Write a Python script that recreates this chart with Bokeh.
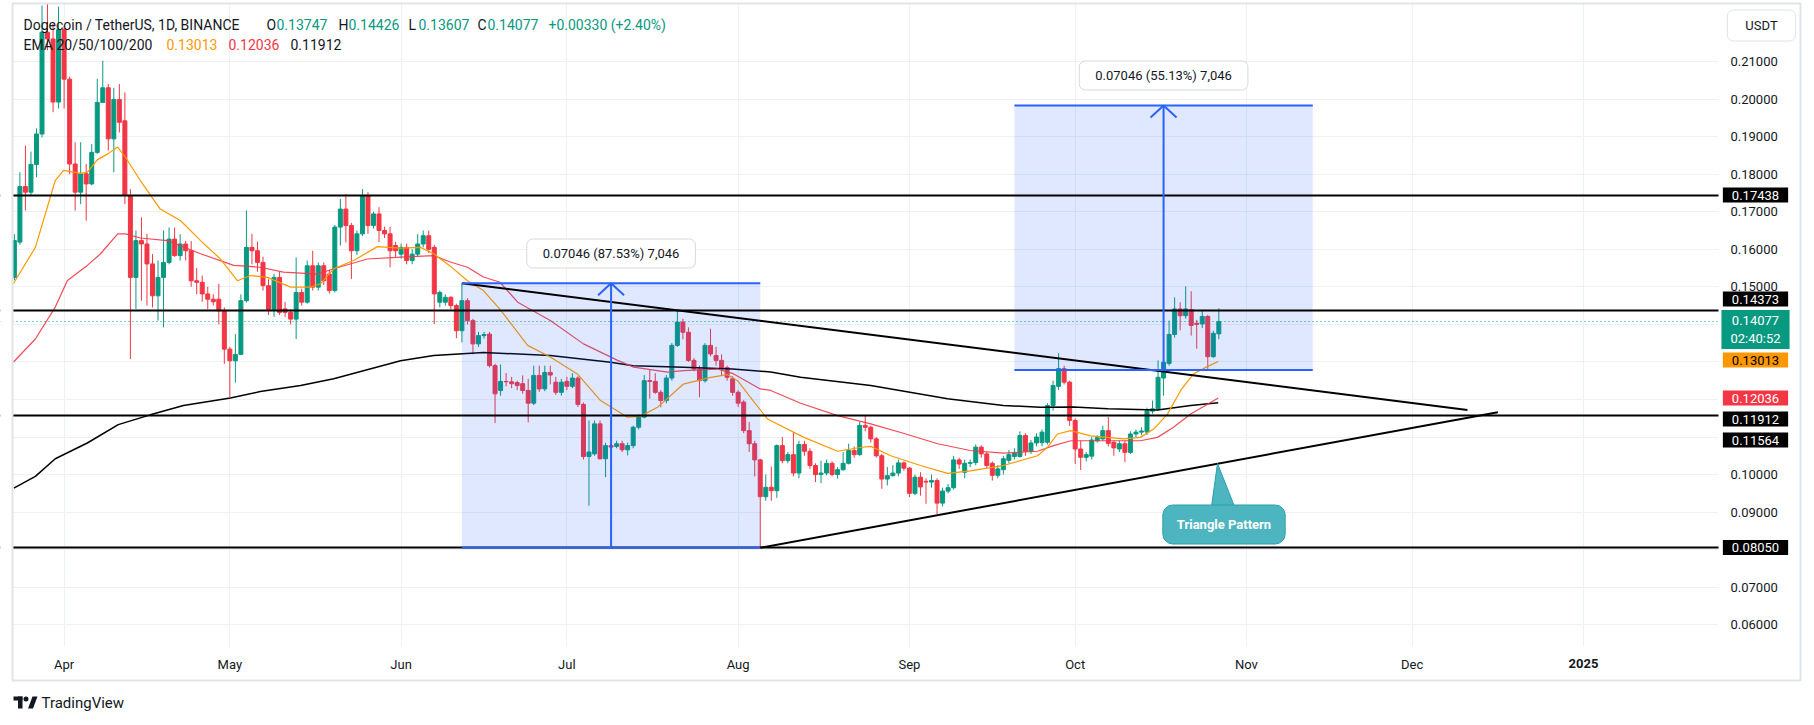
import pandas as pd
from bokeh.plotting import figure
from bokeh.models import Range1d, FixedTicker, Label, ColumnDataSource
from bokeh.embed import file_html
from bokeh.resources import INLINE

# ---------------- data ----------------
symbol_text = "Dogecoin / TetherUS, 1D, BINANCE"
origin_day = "2024-04-01"          # day 0 of the time axis
first_day = "2024-03-23"           # first daily candle

opens = [
    .1525, .1619, .1767, .1752, .1826, .1907, .2178, .2160, .1992,
    .2185, .2053, .1827, .1752, .1801, .1774, .1858, .1991, .2030, .1894,
    .1999, .1942, .1743, .1525, .1623, .1614, .1561, .1476, .1525, .1565,
    .1627, .1583, .1614, .1596, .1516, .1512, .1481, .1467, .1467, .1436,
    .1334, .1303, .1320, .1463, .1605, .1596, .1565, .1503, .1440, .1525,
    .1441, .1432, .1414, .1485, .1459, .1556, .1499, .1556, .1534, .1490,
    .1659, .1707, .1663, .1596, .1641, .1743, .1663, .1694, .1650, .1641,
    .1610,
    .1587, .1605, .1570, .1587, .1614, .1636, .1605, .1459, .1459, .1472,
    .1450, .1383, .1463, .1410, .1348, .1370, .1374, .1290, .1224, .1248,
    .1247, .1245, .1242, .1224, .1190, .1264, .1228, .1272, .1246, .1219,
    .1248, .1235, .1257, .1187, .1048, .1055, .1135, .1042, .1077, .1075,
    .1082, .1066, .1077, .1126, .1153, .1250, .1248, .1219, .1197, .1257,
    .1344, .1406, .1379, .1304, .1281, .1250, .1344, .1317, .1304, .1285,
    .1255,
    .1219, .1193, .1117, .1082, .1039, .0941, .0966, .0957, .1077, .1037,
    .1053, .1004, .1080, .1062, .1024, .1000, .1004, .1030, .1000, .1013,
    .1030, .1064, .1053, .1131, .1126, .1095, .1050, .0988, .0997, .1004,
    .1031,
    .1017, .0950, .0993, .0982, .0980, .0984, .0924, .0956, .0965, .1039,
    .1006, .1030, .1032, .1073, .1055, .1030, .0998, .1013, .1038, .1048,
    .1048, .1104, .1062, .1084, .1085, .1086, .1184, .1235, .1282, .1246,
    .1144, .1068, .1046, .1049, .1090, .1095, .1117, .1086, .1068, .1082,
    .1059, .1108, .1113, .1113, .1169, .1175, .1257, .1296, .1373, .1441,
    .1423, .1439, .1403, .1401, .1421, .1314, .13747,
]
highs = [
    .1640, .1805, .1876, .1860, .1922, .2249, .2255, .2200, .2246,
    .2195, .2060, .1885, .1885, .1827, .1880, .2054, .2102, .2040, .2030,
    .2040, .2018, .1760, .1650, .1685, .1641, .1587, .1570, .1650, .1658,
    .1658, .1640, .1622, .1622, .1550, .1530, .1500, .1480, .1508, .1445,
    .1340, .1374, .1480, .1703, .1641, .1620, .1580, .1520, .1535, .1540,
    .1460, .1440, .1578, .1495, .1570, .1596, .1565, .1565, .1545, .1665,
    .1734, .1747, .1670, .1650, .1760, .1752, .1700, .1712, .1660, .1660,
    .1620,
    .1615, .1615, .1600, .1640, .1650, .1650, .1612, .1490, .1480, .1475,
    .1455, .15096, .1470, .1415, .1380, .1380, .1380, .1295, .1293, .1270,
    .1260, .1250, .1264, .1255, .1290, .1290, .1290, .1290, .1260, .1255,
    .1260, .1270, .1262, .1192, .1144, .1144, .1144, .1085, .1099, .1090,
    .1090, .1085, .1130, .1160, .1265, .1279, .1270, .1225, .1265, .1350,
    .1439, .1415, .1392, .1310, .1290, .1350, .1388, .1340, .1320, .1290,
    .1262,
    .1225, .1198, .1140, .1090, .1042, .1000, .1021, .1080, .1100, .1060,
    .1113, .1090, .1090, .1070, .1030, .1037, .1040, .1035, .1020, .1060,
    .1082, .1075, .1140, .1157, .1130, .1100, .1055, .1020, .1025, .1040,
    .1035,
    .1020, .1000, .1006, .0990, .1000, .0990, .0965, .0975, .1050, .1045,
    .1040, .1040, .1080, .1078, .1060, .1035, .1025, .1050, .1065, .1070,
    .1115, .1110, .1092, .1110, .1120, .1190, .1250, .1323, .1290, .1250,
    .1150, .1090, .1060, .1100, .1105, .1130, .1153, .1090, .1090, .1090,
    .1115, .1120, .1126, .1178, .1197, .1304, .1305, .1410, .1472, .1459,
    .1501, .1488, .1412, .1439, .1425, .1383, .14426,
]
lows = [
    .1518, .1612, .1703, .1743, .1792, .1898, .2130, .1965, .1975,
    .1975, .1800, .1703, .1720, .1676, .1770, .1854, .1991, .1863, .1805,
    .1911, .1720, .1308, .1441, .1463, .1450, .1445, .1410, .1392, .1560,
    .1580, .1570, .1570, .1500, .1480, .1460, .1440, .1450, .1400, .1295,
    .1206, .1245, .1320, .1458, .1560, .1540, .1490, .1425, .1420, .1425,
    .1420, .1400, .1361, .1450, .1455, .1490, .1490, .1505, .1482, .1485,
    .1610, .1618, .1521, .1585, .1635, .1641, .1655, .1619, .1630, .1552,
    .1580,
    .1575, .1560, .1560, .1580, .1605, .1590, .1401, .1445, .1450, .1440,
    .1363, .1352, .1400, .1320, .1340, .1362, .1285, .1137, .1210, .1235,
    .1230, .1225, .1215, .1139, .1185, .1220, .1222, .1240, .1212, .1210,
    .1225, .1230, .1180, .1040, .0917, .1050, .1040, .0993, .1064, .1070,
    .1060, .1051, .1070, .1120, .1150, .1202, .1215, .1179, .1190, .1250,
    .1340, .1360, .1300, .1275, .1206, .1245, .1315, .1290, .1265, .1250,
    .1210,
    .1180, .1110, .1060, .0995, .0805, .0930, .0930, .0938, .1030, .1030,
    .0995, .0990, .1050, .1015, .0980, .0977, .0998, .0995, .0989, .1010,
    .1027, .1045, .1050, .1115, .1085, .1045, .0962, .0971, .0995, .0995,
    .1010,
    .0940, .0945, .0944, .0922, .0965, .0895, .0915, .0950, .0960, .1015,
    .0990, .1020, .1025, .1045, .1018, .0984, .0990, .1000, .1030, .1040,
    .1045, .1050, .1055, .1075, .1075, .1080, .1170, .1225, .1240, .1130,
    .1028, .1012, .1035, .1040, .1085, .1090, .1075, .1050, .1060, .1033,
    .1055, .1100, .1105, .1105, .1162, .1170, .1210, .1290, .1365, .1384,
    .1415, .1370, .1335, .1390, .1281, .1311, .13607,
]
closes = [
    .1623, .1767, .1752, .1826, .1907, .2178, .2160, .1992, .2185,
    .2053, .1827, .1752, .1801, .1774, .1858, .1991, .2030, .1894, .1999,
    .1938, .1743, .1525, .1623, .1614, .1561, .1476, .1525, .1565, .1627,
    .1583, .1614, .1596, .1516, .1512, .1481, .1467, .1460, .1436, .1334,
    .1303, .1320, .1463, .1605, .1596, .1565, .1503, .1440, .1525, .1432,
    .1432, .1414, .1485, .1459, .1556, .1499, .1556, .1516, .1490, .1659,
    .1707, .1663, .1596, .1641, .1743, .1663, .1694, .1650, .1641, .1596,
    .1596,
    .1605, .1570, .1587, .1614, .1636, .1600, .1481, .1485, .1472, .1450,
    .1383, .1463, .1410, .1348, .1370, .1373, .1290, .1215, .1248, .1247,
    .1242, .1237, .1224, .1190, .1264, .1228, .1272, .1265, .1219, .1246,
    .1235, .1257, .1187, .1048, .1060, .1135, .1042, .1077, .1073, .1082,
    .1066, .1077, .1126, .1153, .1250, .1248, .1219, .1197, .1257, .1344,
    .1406, .1379, .1304, .1281, .1250, .1344, .1321, .1304, .1281, .1259,
    .1219,
    .1190, .1117, .1082, .1039, .0941, .0966, .0957, .1077, .1037, .1053,
    .1004, .1080, .1062, .1024, .1000, .1004, .1030, .1000, .1013, .1030,
    .1064, .1053, .1131, .1126, .1095, .1050, .0988, .0997, .1004, .1031,
    .1017,
    .0950, .0993, .0967, .0980, .0984, .0924, .0956, .0965, .1039, .1028,
    .1030, .1032, .1073, .1055, .1024, .0998, .1015, .1042, .1053, .1057,
    .1104, .1062, .1084, .1100, .1113, .1184, .1237, .1282, .1246, .1144,
    .1068, .1046, .1053, .1092, .1098, .1117, .1083, .1071, .1082, .1059,
    .1108, .1113, .1116, .1170, .1175, .1259, .1299, .1373, .1441, .1423,
    .1441, .1397, .1400, .1421, .1314, .1376, .14077,
]

# EMA lines (x = days after 2024-04-01)
ema20_day = [-9.2, -5.2, -1.6, -0.1, 3.0, 4.2, 6.0, 7.9, 9.7, 11.1, 13.8, 17.4, 21.1, 24.7,
             28.3, 31.4, 33.7, 36.8, 41.0, 44.6, 46.4, 48.8, 52.4, 56.7, 60.9, 64.5, 66.9,
             69.9, 73.0, 75.9, 78.9, 83.9, 88.0, 92.9, 97.1, 101.9, 104.3, 107.4, 112.1,
             117.0, 120.1, 121.9, 124.2, 127.3, 133.9, 140.0, 144.1, 146.0, 149.6, 155.0,
             159.9, 164.0, 170.0, 176.2, 178.0, 179.8, 182.2, 185.8, 191.8, 194.8, 197.2,
             199.7, 202.1, 204.4, 207.0, 208.9]
ema20 = [.1508, .1605, .1783, .1810, .1802, .1805, .1838, .1854, .1872, .1845, .1783, .1707,
         .1676, .1623, .1574, .1516, .1530, .1525, .1499, .1499, .1508, .1548, .1570, .1607,
         .1603, .1605, .1588, .1555, .1516, .1490, .1440, .1344, .1313, .1268, .1197, .1153,
         .1155, .1179, .1241, .1259, .1266, .1250, .1206, .1148, .1099, .1062, .1072, .1075,
         .1050, .1024, .1003, .1010, .1024, .1050, .1073, .1108, .1117, .1103, .1095, .1099,
         .1121, .1161, .1224, .1268, .1288, .1301]
ema50_day = [-9.2, -5.2, -1.6, 0.6, 4.2, 6.6, 9.7, 11.1, 13.8, 18.7, 24.7, 30.7, 35.5, 39.7,
             45.9, 48.8, 54.9, 60.9, 66.9, 69.9, 73.0, 75.9, 78.9, 82.1, 88.0, 94.0, 100.2,
             103.1, 109.2, 112.1, 118.3, 121.2, 126.0, 127.9, 133.3, 140.0, 146.0, 151.9,
             158.1, 164.0, 170.0, 176.2, 179.1, 182.2, 188.9, 194.8, 197.9, 200.8, 203.9,
             208.9]
ema50 = [.1299, .1361, .1446, .1517, .1557, .1588, .1641, .1641, .1630, .1623, .1588, .1557,
         .1552, .1539, .1534, .1548, .1574, .1579, .1583, .1566, .1552, .1526, .1512, .1459,
         .1410, .1348, .1304, .1286, .1273, .1277, .1281, .1268, .1228, .1224, .1190, .1157,
         .1135, .1110, .1082, .1064, .1057, .1062, .1077, .1090, .1090, .1090, .1099, .1126,
         .1161, .1204]
ema200_day = [-9.1, -5.2, -1.6, 4.2, 9.8, 15.6, 21.6, 30.1, 35.5, 42.8, 48.8, 60.9, 66.9,
              75.9, 88.0, 98.9, 103.0, 112.1, 121.0, 127.9, 133.3, 146.0, 159.9, 170.0,
              176.7, 182.7, 188.9, 197.9, 203.9, 208.9]
ema200 = [.0964, .0995, .1042, .1084, .1133, .1159, .1184, .1204, .1221, .1237, .1255, .1303,
          .1317, .1325, .1317, .1299, .1290, .1286, .1281, .1273, .1259, .1237, .1202, .1184,
          .1179, .1180, .1175, .1172, .1184, .1191]

month_ticks = ["2024-04-01", "2024-05-01", "2024-06-01", "2024-07-01", "2024-08-01",
               "2024-09-01", "2024-10-01", "2024-11-01", "2024-12-01", "2025-01-01"]
month_labels = ["Apr", "May", "Jun", "Jul", "Aug", "Sep", "Oct", "Nov", "Dec", "2025"]
price_ticks = [0.06, 0.07, 0.08, 0.09, 0.10, 0.11, 0.12, 0.13, 0.14, 0.15,
               0.16, 0.17, 0.18, 0.19, 0.20, 0.21]
hidden_price_ticks = [0.11, 0.12, 0.13, 0.14]

levels = [0.17438, 0.14373, 0.11564, 0.08050]
last_price = 0.14077

tri_upper_day = [72, 254]
tri_upper = [0.15096, 0.1172]
tri_lower_day = [126, 259.5]
tri_lower = [0.08050, 0.1166]

box_start_day = [72, 172]
box_end_day = [126, 226]
box_low = [0.08050, 0.12781]
box_high = [0.15096, 0.19827]
box_text = ["0.07046 (87.53%) 7,046", "0.07046 (55.13%) 7,046"]

header_ohlc = [("O", "0.13747"), ("H", "0.14426"), ("L", "0.13607"), ("C", "0.14077")]
header_change = "+0.00330 (+2.40%)"
ema_title = "EMA 20/50/100/200"
ema_values = ["0.13013", "0.12036", "0.11912"]

# ---------------- layout helpers (screen px -> data) ----------------
X0, XS = 63.6, 5.525
Y0, YS = 61.0, 3755.0
def xd(px): return (px - X0) / XS
def yd(py): return 0.21 - (py - Y0) / YS

W, H = 1814, 725
PL, PR, PT, PB = 12, 1718, 3, 646      # pane edges (px)

GREEN = "#089981"
RED = "#f23645"
ORANGE = "#ff9800"
BLUE = "#2962ff"
DARK = "#131722"
FONT = "Roboto"

p = figure(width=W, height=H,
           x_range=Range1d(xd(0), xd(W)), y_range=Range1d(yd(H), yd(0)),
           y_axis_location="right", toolbar_location=None, output_backend="svg",
           title=None, min_border_left=0, min_border_right=0,
           min_border_top=0, min_border_bottom=0)
p.outline_line_color = None
p.background_fill_color = "white"
p.border_fill_color = "white"

origin = pd.Timestamp(origin_day)
tick_days = [(pd.Timestamp(t) - origin).days for t in month_ticks]
p.xaxis.ticker = FixedTicker(ticks=tick_days)
p.xaxis.major_label_overrides = {t: (l if l != "2025" else "") for t, l in zip(tick_days, month_labels)}
p.yaxis.ticker = FixedTicker(ticks=price_ticks)
p.yaxis.major_label_overrides = {t: ("" if t in hidden_price_ticks else f"{t:.5f}") for t in price_ticks}
for ax in (p.xaxis[0], p.yaxis[0]):
    ax.axis_line_color = None
    ax.major_tick_line_color = None
    ax.minor_tick_line_color = None
    ax.major_tick_out = 0
    ax.major_tick_in = 0
    ax.major_label_text_font = FONT
    ax.major_label_text_font_size = "13px"
    ax.major_label_text_color = DARK
# labels drawn back inside the canvas
p.xaxis.major_label_standoff = 656 - H
p.yaxis.major_label_standoff = 1730 - W
p.xgrid.ticker = FixedTicker(ticks=tick_days)
p.ygrid.ticker = FixedTicker(ticks=price_ticks)
p.xgrid.grid_line_color = "#eef0f4"
p.ygrid.grid_line_color = "#eef0f4"

# ---------------- candles ----------------
dates = pd.date_range(first_day, periods=len(closes), freq="D")
days = [(d - origin).days for d in dates]

def candle_source(rising):
    idx = [i for i in range(len(closes)) if (closes[i] >= opens[i]) == rising]
    return ColumnDataSource(dict(
        x=[days[i] for i in idx],
        top=[max(opens[i], closes[i]) for i in idx],
        bottom=[min(opens[i], closes[i]) for i in idx],
        high=[max(highs[i], opens[i], closes[i]) for i in idx],
        low=[min(lows[i], opens[i], closes[i]) for i in idx]))

for rising, col in ((True, GREEN), (False, RED)):
    src = candle_source(rising)
    p.segment(x0="x", y0="low", x1="x", y1="high", source=src, line_color=col, line_width=1)
    p.vbar(x="x", width=0.72, top="top", bottom="bottom", source=src,
           fill_color=col, line_color=col, line_width=1)

# EMAs
p.line(ema200_day, ema200, line_color="#000000", line_width=1.5)
p.line(ema50_day, ema50, line_color=RED, line_width=1.2, line_alpha=0.9)
p.line(ema20_day, ema20, line_color=ORANGE, line_width=1.2)

# measurement boxes
p.quad(left=box_start_day, right=box_end_day, bottom=box_low, top=box_high,
       fill_color=BLUE, fill_alpha=0.15, line_color=None)

# horizontal levels and last price
p.hspan(y=levels, line_color="black", line_width=2)
p.hspan(y=[last_price], line_color=GREEN, line_width=1, line_dash="1 3")

# triangle
p.line(tri_upper_day, tri_upper, line_color="black", line_width=2)
p.line(tri_lower_day, tri_lower, line_color="black", line_width=2)

# box edges and arrows
for s, e, lo, hi in zip(box_start_day, box_end_day, box_low, box_high):
    mid = (s + e) / 2
    p.segment(x0=[s, s], y0=[lo, hi], x1=[e, e], y1=[lo, hi], line_color=BLUE, line_width=2)
    p.segment(x0=[mid], y0=[lo], x1=[mid], y1=[hi], line_color=BLUE, line_width=2)
    ax_ = 13 / XS
    ay_ = 12 / YS
    p.line([mid - ax_, mid, mid + ax_], [hi - ay_, hi, hi - ay_], line_color=BLUE, line_width=2)

# triangle callout pointer
p.patch([xd(1211), xd(1234), xd(1217)], [yd(506), yd(506), yd(463)],
        fill_color="#4db5c0", line_color="#2a9fab", line_width=1)

# white margins around the pane (price scale, time scale, outer edges)
p.quad(left=[xd(0), xd(PR), xd(0), xd(0)], right=[xd(PL), xd(W), xd(W), xd(W)],
       top=[yd(0), yd(0), yd(0), yd(PB)], bottom=[yd(H), yd(H), yd(PT), yd(H)],
       fill_color="white", line_color=None)
# outer chart border
p.quad(left=[xd(12)], right=[xd(1800)], top=[yd(3)], bottom=[yd(680)],
       fill_color=None, line_color="#e0e3eb", line_width=2)

# TradingView logo mark
p.quad(left=[xd(13), xd(17.5)], right=[xd(22), xd(22)], top=[yd(696), yd(696)],
       bottom=[yd(700), yd(708)], fill_color=DARK, line_color=None)
p.scatter([xd(25.5)], [yd(698.5)], marker="circle", size=5, fill_color=DARK, line_color=None)
p.patch([xd(27.5), xd(32), xd(37), xd(32.5)], [yd(708), yd(696), yd(696), yd(708)],
        fill_color=DARK, line_color=None)

# ---------------- annotations ----------------
def lab(px, py, text, color=DARK, size="13px", align="left", bold=False, bg=None,
        border=None, pad=None, radius=0, font=FONT, bw=1):
    kw = dict(x=xd(px), y=yd(py), text=text, text_color=color, text_font=font,
              text_font_size=size, text_font_style="bold" if bold else "normal",
              text_align=align, text_baseline="middle",
              background_fill_color=bg, border_line_color=border, border_line_width=bw,
              border_radius=radius)
    if pad is not None:
        kw["padding"] = dict(left=pad[0], right=pad[1], top=pad[2], bottom=pad[3])
    l = Label(**kw)
    p.add_layout(l)
    return l

# measurement labels
for s, e, t, py in zip(box_start_day, box_end_day, box_text, [253, 75]):
    mid = (s + e) / 2
    p.add_layout(Label(x=mid, y=yd(py), text=t, text_color=DARK, text_font=FONT,
                       text_font_size="13px", text_align="center", text_baseline="middle",
                       background_fill_color="white", border_line_color="#d6d9e0",
                       border_radius=6, padding=dict(left=16, right=16, top=7, bottom=7)))

lab(1223.5, 524, "Triangle Pattern", color="white", bold=True, align="center",
    bg="#4db5c0", border="#2a9fab", pad=(14, 14, 12, 12), radius=10)

# header
lab(23, 24, symbol_text, size="14px")
hx = [266, 338, 408, 477]
for (k, v), x in zip(header_ohlc, hx):
    lab(x, 24, k, size="14px")
    lab(x + 10, 24, v, color=GREEN, size="14px")
lab(548, 24, header_change, color=GREEN, size="14px")
lab(23, 44, ema_title, size="14px")
for v, x, c in zip(ema_values, [166, 228, 290], [ORANGE, RED, DARK]):
    lab(x, 44, v, color=c, size="14px")

# price-scale badges
badges = [("0.17438", "black", "white", 194.5),
          ("0.14373", "black", "white", 298.5),
          ("0.14077\n02:40:52", GREEN, "white", 329),
          ("0.13013", ORANGE, "black", 359.5),
          ("0.12036", RED, "white", 397.5),
          ("0.11912", "black", "white", 418.5),
          ("0.11564", "black", "white", 439.5),
          ("0.08050", "black", "white", 547)]
for t, bg, fg, py in badges:
    lab(1755, py, t, color=fg, align="center", bg=bg, pad=(9, 9, 3, 3))

lab(1761, 25, "USDT", align="center", bg="white", border="#e0e3eb", pad=(18, 18, 8, 8), radius=6)

# bold year label on time axis
p.add_layout(Label(x=tick_days[-1], y=yd(663), text="2025", text_color=DARK, text_font=FONT,
                   text_font_size="13px", text_font_style="bold", text_align="center",
                   text_baseline="middle"))

# watermark text
lab(41, 702, "TradingView", size="15px")

open("out.html", "w").write(file_html(p, INLINE))
